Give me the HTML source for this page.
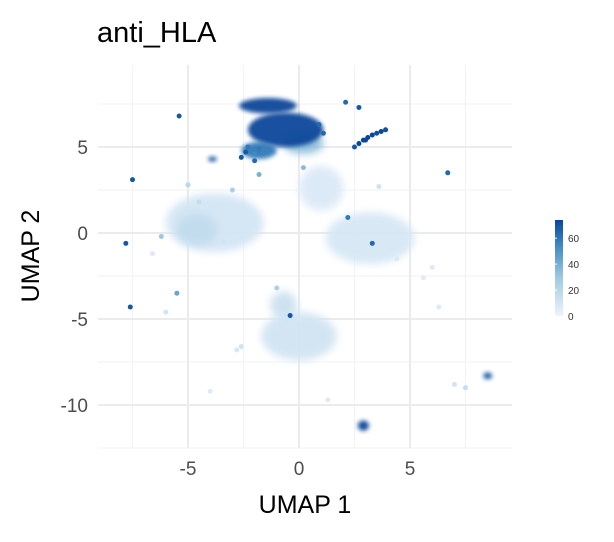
<!DOCTYPE html>
<html><head><meta charset="utf-8"><style>
body{margin:0;background:#fff;width:614px;height:537px;overflow:hidden;font-family:"Liberation Sans",sans-serif}
</style></head><body>
<svg id="chart" width="614" height="537" xmlns="http://www.w3.org/2000/svg">
<defs>
<filter id="blur" x="-50%" y="-50%" width="200%" height="200%"><feGaussianBlur stdDeviation="4"/></filter>
<filter id="blur2" x="-50%" y="-50%" width="200%" height="200%"><feGaussianBlur stdDeviation="2"/></filter>
<linearGradient id="cbar" x1="0" y1="1" x2="0" y2="0">
<stop offset="0" stop-color="#eef3fc"/><stop offset="0.4" stop-color="#9ecae1"/><stop offset="0.75" stop-color="#3c86c0"/><stop offset="1" stop-color="#08479a"/>
</linearGradient>
</defs>
<g id="grid"></g>
<g id="blobs"></g>
<g id="pts"></g>
<g id="axes"></g>
<text x="97" y="42" font-size="29" fill="#000">anti_HLA</text>
<text x="305" y="513" font-size="25" text-anchor="middle">UMAP 1</text>
<text x="0" y="0" font-size="25" text-anchor="middle" transform="translate(39,256) rotate(-90)">UMAP 2</text>
<rect x="555" y="220" width="8" height="96" fill="url(#cbar)"/>
<g id="cbticks" font-size="10" fill="#333"></g>
</svg>
<script>
const xTicks=[-5,0,5];
const yTicks=[5,0,-5,-10];
const xMinor=[-7.5,-2.5,2.5,7.5];
const yMinor=[7.5,2.5,-2.5,-7.5,-12.5];
const cbTicks=[0,20,40,60];
// clusters: x, y, rx, ry, value (drawn in order)
const clusterX=[-3.8,-4.6,3.2,1.0,0,0.2,-0.6,-1.4,-1.8,-0.7,2.9,8.5,-3.9];
const clusterY=[0.6,0.2,-0.3,2.6,-6.0,5.2,6.0,7.4,4.8,-4.2,-11.2,-8.3,4.3];
const clusterRX=[2.2,0.9,2.0,1.0,1.7,0.9,1.7,1.3,0.8,0.6,0.25,0.2,0.2];
const clusterRY=[1.7,0.9,1.5,1.3,1.4,0.6,1.0,0.45,0.5,0.8,0.3,0.2,0.15];
const clusterV=[9,16,8,6,10,35,75,78,60,12,75,70,70];
// individual points
const ptX=[-7.5,-7.8,-7.6,-5.4,6.7,-0.4,3.3,-5.5,2.1,2.7,2.5,3.0,3.5,3.9,-2.3,-2.0,-1.8,0.9,1.1,-3.0,-4.5,-5.0,-6.2,-3.4,4.4,6.0,7.0,7.5,-2.6,-2.8,-1.0,-6.0,-4.0,1.3,2.2,-1.8,0.2,-6.6,3.6,5.6,6.3,2.7,2.9,3.1,3.3,3.7,-2.6,-2.4,-2.0];
const ptY=[3.1,-0.6,-4.3,6.8,3.5,-4.8,-0.6,-3.5,7.6,7.3,5.0,5.4,5.8,6.0,5.0,4.6,4.9,6.3,5.8,2.5,1.8,2.8,-0.2,-0.5,-1.5,-2.0,-8.8,-9.0,-6.6,-6.8,-3.2,-4.6,-9.2,-9.7,0.9,3.4,3.8,-1.2,2.7,-2.6,-4.3,5.2,5.4,5.55,5.7,5.9,4.4,4.7,4.2];
const ptV=[70,70,70,70,65,70,65,45,65,70,70,72,72,72,60,55,60,65,65,25,15,20,30,10,5,5,10,15,10,8,25,10,5,5,60,40,35,5,10,5,5,75,75,75,75,75,70,70,65];
const NS="http://www.w3.org/2000/svg";
const sx=v=>299+v*22.2, sy=v=>233-v*17.2;
function col(v){
  const t=Math.max(0,Math.min(1,v/75));
  const stops=[[0,[234,241,252]],[0.4,[158,202,225]],[0.75,[60,134,192]],[1,[8,71,154]]];
  for(let i=1;i<stops.length;i++){if(t<=stops[i][0]){const a=stops[i-1],b=stops[i],f=(t-a[0])/(b[0]-a[0]);
    return 'rgb('+a[1].map((c,k)=>Math.round(c+(b[1][k]-c)*f)).join(',')+')';}}
  return 'rgb(8,71,154)';
}
function mk(tag,attrs,parent){const e=document.createElementNS(NS,tag);for(const k in attrs)e.setAttribute(k,attrs[k]);parent.appendChild(e);return e;}
const grid=document.getElementById('grid');
xMinor.forEach(v=>{const l=mk('line',{x1:sx(v),x2:sx(v),y1:65,y2:448,stroke:'#f2f2f2','stroke-width':1},grid);

});
yMinor.forEach(v=>{const l=mk('line',{x1:98,x2:512,y1:sy(v),y2:sy(v),stroke:'#f2f2f2','stroke-width':1},grid);

});
xTicks.forEach(v=>{const l=mk('line',{x1:sx(v),x2:sx(v),y1:65,y2:448,stroke:'#ebebeb','stroke-width':2},grid);

});
yTicks.forEach(v=>{const l=mk('line',{x1:98,x2:512,y1:sy(v),y2:sy(v),stroke:'#ebebeb','stroke-width':2},grid);

});
const axes=document.getElementById('axes');
xTicks.forEach(v=>{const t=mk('text',{x:sx(v),y:475,'font-size':19,fill:'#4d4d4d','text-anchor':'middle'},axes);t.textContent=v;

});
yTicks.forEach(v=>{const t=mk('text',{x:88,y:sy(v)+7,'font-size':19,fill:'#4d4d4d','text-anchor':'end'},axes);t.textContent=v;

});
const blobs=document.getElementById('blobs');
clusterX.forEach((x,i)=>{const e=mk('ellipse',{cx:sx(x),cy:sy(clusterY[i]),rx:clusterRX[i]*22.2,ry:clusterRY[i]*17.2,fill:col(clusterV[i]),filter:(clusterRX[i]<0.5||clusterV[i]>50)?'url(#blur2)':'url(#blur)',opacity:0.95},blobs);

});
const pts=document.getElementById('pts');
ptX.forEach((x,i)=>{const c=mk('circle',{cx:sx(x),cy:sy(ptY[i]),r:2.5,fill:col(ptV[i])},pts);

});
const cb=document.getElementById('cbticks');
cbTicks.forEach(v=>{const y=316-v*(96/74);
const l=mk('line',{x1:555,x2:557,y1:y,y2:y,stroke:'#fff'},cb);


const t=mk('text',{x:568,y:y+4},cb);t.textContent=v;

});
</script>
</body></html>
